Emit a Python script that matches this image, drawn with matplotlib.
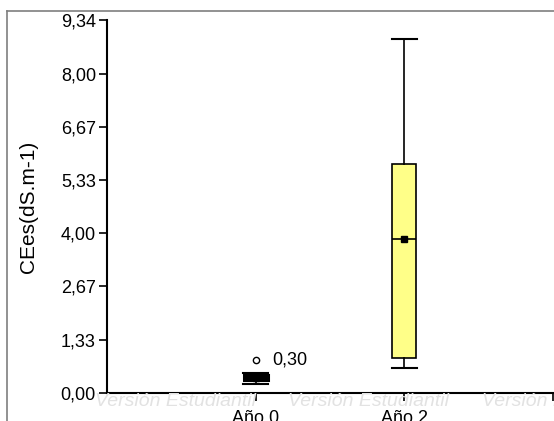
import matplotlib.pyplot as plt

plt.rcParams['font.family'] = ['Liberation Sans', 'DejaVu Sans']

# data
groups = ['Año 0', 'Año 2']
whisker_low = [0.22, 0.63]
q1 = [0.32, 0.87]
medians = [0.38, 3.85]
q3 = [0.44, 5.73]
whisker_high = [0.50, 8.86]
outlier_vals = [[0.82], []]
outlier_labels = [['0,30'], []]
yticks = [0.00, 1.33, 2.67, 4.00, 5.33, 6.67, 8.00, 9.34]
ytick_labels = ['0,00', '1,33', '2,67', '4,00', '5,33', '6,67', '8,00', '9,34']

fig = plt.figure(figsize=(5.54, 4.21), dpi=100)
ax = fig.add_axes([107/554, 28/421, 446/554, 373/421])

stats = []
for i, g in enumerate(groups):
    stats.append({'label': g, 'whislo': whisker_low[i], 'q1': q1[i], 'med': medians[i],
                  'q3': q3[i], 'whishi': whisker_high[i], 'fliers': outlier_vals[i]})
pos = list(range(1, len(groups) + 1))
bp = ax.bxp(stats, positions=pos, widths=0.16, capwidths=0.17, patch_artist=True,
            boxprops=dict(facecolor='#ffff88', edgecolor='black', linewidth=1.2),
            whiskerprops=dict(color='black', linewidth=1.2),
            capprops=dict(color='black', linewidth=1.5),
            medianprops=dict(color='black', linewidth=1.2),
            flierprops=dict(marker='o', markersize=4.5, markerfacecolor='white',
                            markeredgecolor='black', markeredgewidth=1.0))
# the first box is so short that it renders as a solid dark bar
bp['boxes'][0].set_linewidth(2.2)
bp['boxes'][0].set_facecolor('black')
ax.plot(pos, medians, 's', color='black', markersize=4.5, zorder=5)
for i, labs in enumerate(outlier_labels):
    for v, lab in zip(outlier_vals[i], labs):
        ax.text(pos[i] + 0.11, v, lab, fontsize=13, va='center', ha='left')

ax.set_xlim(0, 3)
ax.set_ylim(0, 9.34)
ax.set_yticks(yticks)
ax.set_yticklabels(ytick_labels, fontsize=13)
ax.set_xticks([1, 2, 3])
ax.set_xticklabels(groups + [''], fontsize=13)
ax.tick_params(axis='both', direction='out', length=6, width=1.2, pad=2)
ax.tick_params(axis='x', pad=6)
ax.set_ylabel('CEes(dS.m-1)', fontsize=15, labelpad=16)
for s in ['top', 'right']:
    ax.spines[s].set_visible(False)
for s in ['left', 'bottom']:
    ax.spines[s].set_linewidth(1.5)

# watermark row along the bottom
for x in [95, 288, 482]:
    fig.text(x/554, 1 - 402/421, 'Versión Estudiantil', fontsize=14, style='italic',
             color='#e2e2e2', va='center', ha='left', zorder=0)

# grey frame of the document
fig.add_artist(plt.Line2D([7/554, 7/554], [0, 1 - 11/421], color='#7f7f7f', lw=1.2,
                          transform=fig.transFigure))
fig.add_artist(plt.Line2D([7/554, 1], [1 - 11/421, 1 - 11/421], color='#7f7f7f', lw=1.2,
                          transform=fig.transFigure))

fig.savefig('out.png', dpi=100)
